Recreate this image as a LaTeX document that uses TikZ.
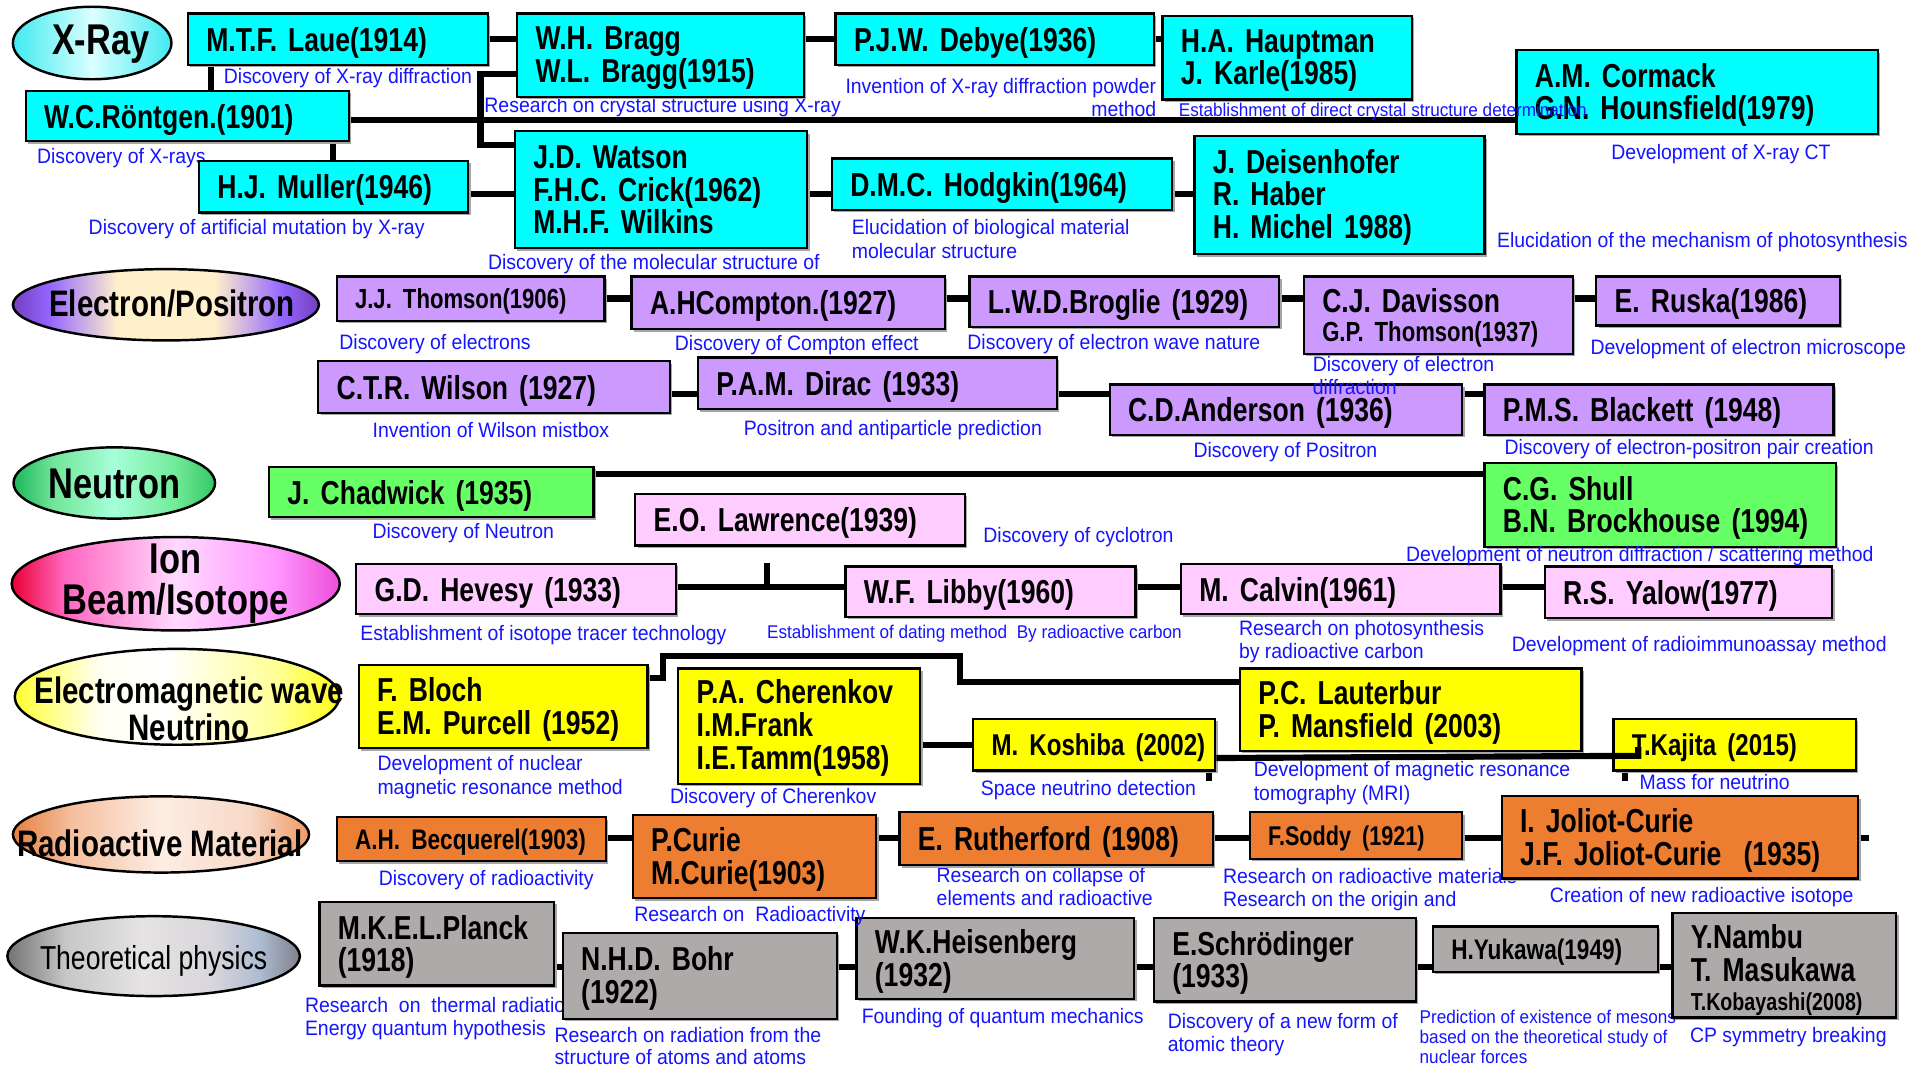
\documentclass[tikz,border=0pt]{standalone}
\usepackage{fontspec}
\setmainfont{Liberation Sans}
\newfontfamily\bxf{Liberation Sans}[FakeStretch=0.8]
\newfontfamily\dsf{Liberation Sans}[FakeStretch=0.93]
\usetikzlibrary{shapes.geometric,calc,backgrounds,shadows}
\definecolor{cyanb}{HTML}{00FFFF}
\definecolor{lav}{HTML}{CC99FF}
\definecolor{grn}{HTML}{66FF66}
\definecolor{pnk}{HTML}{FFCCFF}
\definecolor{yel}{HTML}{FFFF00}
\definecolor{org}{HTML}{ED7D31}
\definecolor{gry}{HTML}{AEAAAA}
\definecolor{capblue}{HTML}{1414FF}
\pgfdeclarehorizontalshading{xrayshade}{100bp}{rgb(0bp)=(0.25,0.92,0.94); rgb(25bp)=(0.25,0.92,0.94); rgb(50bp)=(0.86,1,1); rgb(75bp)=(0.25,0.92,0.94); rgb(100bp)=(0.25,0.92,0.94)}
\pgfdeclarehorizontalshading{elecshade}{100bp}{rgb(0bp)=(0.45,0.25,0.75); rgb(25bp)=(0.45,0.25,0.75); rgb(31bp)=(0.58,0.4,1); rgb(42bp)=(1,0.94,0.8); rgb(58bp)=(1,0.94,0.8); rgb(69bp)=(0.58,0.4,1); rgb(75bp)=(0.45,0.25,0.75); rgb(100bp)=(0.45,0.25,0.75)}
\pgfdeclarehorizontalshading{neutshade}{100bp}{rgb(0bp)=(0.1,0.72,0.35); rgb(25bp)=(0.1,0.72,0.35); rgb(35bp)=(0.45,0.9,0.6); rgb(50bp)=(0.65,1,0.85); rgb(65bp)=(0.45,0.92,0.6); rgb(75bp)=(0.2,0.78,0.4); rgb(100bp)=(0.2,0.78,0.4)}
\pgfdeclarehorizontalshading{ionshade}{100bp}{rgb(0bp)=(0.92,0,0.2); rgb(25bp)=(0.92,0,0.2); rgb(33bp)=(1,0.4,0.75); rgb(50bp)=(1,0.85,1); rgb(65bp)=(1,0.6,1); rgb(75bp)=(0.93,0.3,0.85); rgb(100bp)=(0.93,0.3,0.85)}
\pgfdeclarehorizontalshading{emshade}{100bp}{rgb(0bp)=(1,1,0.2); rgb(25bp)=(1,1,0.2); rgb(38bp)=(1,1,0.95); rgb(48bp)=(1,1,1); rgb(65bp)=(1,1,0.6); rgb(75bp)=(1,1,0.1); rgb(100bp)=(1,1,0.1)}
\pgfdeclarehorizontalshading{radshade}{100bp}{rgb(0bp)=(0.9,0.5,0.25); rgb(25bp)=(0.9,0.5,0.25); rgb(35bp)=(0.96,0.75,0.62); rgb(50bp)=(0.99,0.93,0.89); rgb(65bp)=(0.97,0.85,0.78); rgb(75bp)=(0.93,0.6,0.4); rgb(100bp)=(0.93,0.6,0.4)}
\pgfdeclarehorizontalshading{theoshade}{100bp}{rgb(0bp)=(0.45,0.45,0.45); rgb(25bp)=(0.45,0.45,0.45); rgb(35bp)=(0.78,0.78,0.78); rgb(48bp)=(0.9,0.89,0.89); rgb(60bp)=(0.85,0.84,0.86); rgb(68bp)=(0.68,0.74,0.82); rgb(75bp)=(0.5,0.5,0.55); rgb(100bp)=(0.5,0.5,0.55)}
\tikzset{
  conn/.style={line width=5pt, draw=black},
  pb/.style={draw=black, line width=1.8pt, anchor=north west, inner xsep=15pt, inner ysep=0pt, align=left, text=black,
    font=\bxf\bfseries\fontsize{27}{26.5}\selectfont,
    execute at begin node={\hyphenpenalty=10000\relax\exhyphenpenalty=10000\relax},
    drop shadow={shadow xshift=2pt, shadow yshift=-2pt, fill=black!35, opacity=1}},
  onel/.style={text depth=0pt},
  twol/.style={text depth=27.2pt},
  threel/.style={text depth=55.7pt},
  capt/.style={text=capblue, font=\dsf\fontsize{17}{19}\selectfont, inner sep=0pt, align=left, anchor=west, text depth=0pt},
  captsm/.style={capt, font=\dsf\fontsize{15}{16.5}\selectfont},
  catell/.style={ellipse, draw=black, line width=2pt, inner sep=0pt},
  cattext/.style={font=\bxf\bfseries\fontsize{30}{30}\selectfont, align=center, inner sep=0pt, text=black},
}
\newcommand\mybx[8][]{%
  \pgfmathsetmacro\mybxtw{#5-30}%
  \node[pb, fill=#7, minimum width=#5pt, minimum height=#6pt, text width=\mybxtw pt, #1] (#2) at (#3,#4) {#8};}
\begin{document}
\begin{tikzpicture}[x=1pt,y=-1pt]
\useasboundingbox (0,0) rectangle (1568,867);

% category ellipses
\node[catell, minimum width=129pt, minimum height=59pt, shading=xrayshade] (xray) at (75,35) {};
\node[cattext, font=\bxf\bfseries\fontsize{35}{35}\selectfont] (xrayt) at (82,36) {X-Ray};
\node[catell, minimum width=249pt, minimum height=58pt, shading=elecshade] (elec) at (135,248) {};
\node[cattext] (elect) at (140,247) {Electron/Positron};
\node[catell, minimum width=164pt, minimum height=58pt, shading=neutshade] (neut) at (93,393) {};
\node[cattext, font=\bxf\bfseries\fontsize{35}{35}\selectfont] (neutt) at (93,394) {Neutron};
\node[catell, minimum width=267pt, minimum height=76pt, shading=ionshade] (ion) at (143,475) {};
\node[cattext, font=\bxf\bfseries\fontsize{35}{33}\selectfont] (iont) at (143,475) {Ion\\Beam/Isotope};
\node[catell, minimum width=264pt, minimum height=78pt, shading=emshade] (em) at (144,567) {};
\node[cattext] (emt) at (154,577) {Electromagnetic wave\\Neutrino};
\node[catell, minimum width=241pt, minimum height=62pt, shading=radshade] (radio) at (131,679) {};
\node[cattext] (radiot) at (130,686) {Radioactive Material};
\node[catell, minimum width=238pt, minimum height=65pt, shading=theoshade] (theo) at (125,778) {};
\node[cattext, font=\bxf\fontsize{27}{27}\selectfont] (theot) at (125,782) {Theoretical physics};

% captions drawn below boxes
\node[capt] (cLaue) at (182,62) {Discovery of X-ray diffraction};
\node[capt] (cBragg) at (394,85) {Research on crystal structure using X-ray};
\node[capt, anchor=east, align=right] (cDebye) at (941,79.5) {Invention of X-ray diffraction powder\\method};
\node[capt] (cCormack) at (1311,124) {Development of X-ray CT};
\node[capt] (cRoent) at (30,127) {Discovery of X-rays};
\node[capt] (cMuller) at (72,185) {Discovery of artificial mutation by X-ray};
\node[capt] (cWatson) at (397,213) {Discovery of the molecular structure of};
\node[capt] (cHodgkin) at (693,194.5) {Elucidation of biological material\\molecular structure};
\node[capt] (cDeisen) at (1218,195) {Elucidation of the mechanism of photosynthesis};
\node[capt] (cThomson) at (276,278) {Discovery of electrons};
\node[capt] (cCompton) at (549,279) {Discovery of Compton effect};
\node[capt] (cBroglie) at (787,278) {Discovery of electron wave nature};
\node[capt] (cRuska) at (1294,282) {Development of electron microscope};
\node[capt] (cWilson) at (303,350) {Invention of Wilson mistbox};
\node[capt] (cDirac) at (605,348) {Positron and antiparticle prediction};
\node[capt] (cAnderson) at (971,366) {Discovery of Positron};
\node[capt] (cBlackett) at (1224,364) {Discovery of electron-positron pair creation};
\node[capt] (cChadwick) at (303,432) {Discovery of Neutron};
\node[capt] (cLawrence) at (800,435) {Discovery of cyclotron};
\node[capt] (cHevesy) at (293,515) {Establishment of isotope tracer technology};
\node[captsm] (cLibby) at (624,514) {Establishment of dating method\ \ By radioactive carbon};
\node[capt] (cCalvin) at (1008,520.5) {Research on photosynthesis\\by radioactive carbon};
\node[capt] (cYalow) at (1230,524) {Development of radioimmunoassay method};
\node[capt] (cBloch) at (307,630.5) {Development of nuclear\\magnetic resonance method};
\node[capt] (cCheren) at (545,648) {Discovery of Cherenkov};
\node[capt] (cKoshiba) at (798,641) {Space neutrino detection};
\node[capt] (cLauter) at (1020,635.5) {Development of magnetic resonance\\tomography (MRI)};
\node[capt] (cKajita) at (1334,636) {Mass for neutrino};
\node[capt] (cBecq) at (308,714) {Discovery of radioactivity};
\node[capt] (cRuther) at (762,721.5) {Research on collapse of\\elements and radioactive};
\node[capt] (cSoddy) at (995,722) {Research on radioactive materials\\Research on the origin and};
\node[capt] (cJoliot) at (1261,728) {Creation of new radioactive isotope};
\node[capt] (cPlanck) at (248,827) {Research\ \ on\ \ thermal radiation\\Energy quantum hypothesis};
\node[capt, font=\dsf\fontsize{17}{18}\selectfont] (cBohr) at (451,851) {Research on radiation from the\\structure of atoms and atoms};
\node[capt] (cHeisen) at (701,827) {Founding of quantum mechanics};
\node[capt] (cSchrod) at (950,840) {Discovery of a new form of\\atomic theory};
\node[captsm] (cYukawa) at (1155,843.5) {Prediction of existence of mesons\\based on the theoretical study of\\nuclear forces};
\node[capt] (cNambu) at (1375,842) {CP symmetry breaking};

% boxes
\mybx[onel]{laue}{152}{10}{244}{42}{cyanb}{M.T.F.~Laue(1914)}
\mybx[twol]{bragg}{420}{10}{233}{68}{cyanb}{W.H.~Bragg\\W.L.~Bragg(1915)}
\mybx[onel]{debye}{679}{10}{259}{42}{cyanb}{P.J.W.~Debye(1936)}
\mybx[twol]{haupt}{945}{12}{203}{68}{cyanb}{H.A.~Hauptman\\J.~Karle(1985)}
\mybx[twol]{cormack}{1233}{40}{294}{68}{cyanb}{A.M.~Cormack\\G.N.~Hounsfield(1979)}
\mybx[onel]{roent}{20}{73}{263}{41}{cyanb}{W.C.Röntgen.(1901)}
\mybx[onel]{muller}{161}{130}{219}{42}{cyanb}{H.J.~Muller(1946)}
\mybx{watson}{418}{106}{238}{95}{cyanb}{J.D.~Watson\\F.H.C.~Crick(1962)\\M.H.F.~Wilkins}
\mybx[onel]{hodgkin}{676}{128}{277}{42}{cyanb}{D.M.C.~Hodgkin(1964)}
\mybx[threel]{deisen}{971}{110}{236}{96}{cyanb}{J.~Deisenhofer\\R.~Haber\\H.~Michel~1988)}

\mybx[onel]{thomson}{273}{224}{218}{36}{lav}{\fontsize{22.5}{23}\selectfont J.J.~Thomson(1906)}
\mybx[onel]{compton}{513}{224}{255}{43}{lav}{A.HCompton.(1927)}
\mybx[onel]{broglie}{788}{224}{252}{41}{lav}{L.W.D.Broglie~(1929)}
\mybx[text depth=23pt]{davisson}{1060}{224}{219}{63}{lav}{C.J.~Davisson\\[-3pt]{\fontsize{22.5}{24}\selectfont G.P.~Thomson(1937)}}
\mybx[onel]{ruska}{1298}{224}{198}{40}{lav}{E.~Ruska(1986)}
\mybx[onel]{wilson}{258}{293}{286}{42}{lav}{C.T.R.~Wilson~(1927)}
\mybx[onel]{dirac}{567}{290}{292}{42}{lav}{P.A.M.~Dirac~(1933)}
\mybx[onel]{anderson}{902}{312}{287}{41}{lav}{C.D.Anderson~(1936)}
\mybx[onel]{blackett}{1207}{312}{284}{41}{lav}{P.M.S.~Blackett~(1948)}

\mybx[onel]{chadwick}{218}{379}{264}{41}{grn}{J.~Chadwick~(1935)}
\mybx[twol]{shull}{1207}{376}{286}{68}{grn}{C.G.~Shull\\B.N.~Brockhouse~(1994)}
\mybx[onel]{lawrence}{516}{401}{268}{42}{pnk}{E.O.~Lawrence(1939)}

\mybx[onel]{hevesy}{289}{458}{260}{41}{pnk}{G.D.~Hevesy~(1933)}
\mybx[onel]{libby}{687}{460}{236}{41}{pnk}{W.F.~Libby(1960)}
\mybx[onel]{calvin}{960}{458}{260}{41}{pnk}{M.~Calvin(1961)}
\mybx[onel]{yalow}{1256}{460}{234}{42}{pnk}{R.S.~Yalow(1977)}

\mybx[twol]{bloch}{291}{540}{235}{68}{yel}{F.~Bloch\\E.M.~Purcell~(1952)}
\mybx[threel]{cheren}{551}{543}{197}{94}{yel}{P.A.~Cherenkov\\I.M.Frank\\I.E.Tamm(1958)}
\mybx[onel]{koshiba}{791}{584}{197}{42}{yel}{\fontsize{24.5}{25}\selectfont M.~Koshiba~(2002)}
\mybx[twol]{lauter}{1008}{543}{278}{67}{yel}{P.C.~Lauterbur\\P.~Mansfield~(2003)}
\mybx[onel]{kajita}{1312}{584}{197}{42}{yel}{\fontsize{24.5}{25}\selectfont T.Kajita~(2015)}

\mybx[onel]{becq}{273}{664}{219}{36}{org}{\fontsize{23}{23}\selectfont A.H.~Becquerel(1903)}
\mybx[twol]{curie}{514}{662}{198}{68}{org}{P.Curie\\M.Curie(1903)}
\mybx[onel]{ruther}{731}{660}{255}{43}{org}{E.~Rutherford~(1908)}
\mybx[onel]{soddy}{1016}{660}{173}{38}{org}{\fontsize{22}{22}\selectfont F.Soddy~(1921)}
\mybx[twol]{joliot}{1221}{647}{290}{67}{org}{I.~Joliot-Curie\\J.F.~Joliot-Curie~~(1935)}

\mybx[twol]{planck}{259}{733}{191}{68}{gry}{M.K.E.L.Planck\\(1918)}
\mybx[twol]{bohr}{457}{758}{223}{70}{gry}{N.H.D.~Bohr\\(1922)}
\mybx[twol]{heisen}{696}{746}{226}{66}{gry}{W.K.Heisenberg\\(1932)}
\mybx[twol]{schrod}{938}{746}{213}{68}{gry}{E.Schrödinger\\(1933)}
\mybx[onel]{yukawa}{1165}{753}{183}{37}{gry}{\fontsize{23}{23}\selectfont H.Yukawa(1949)}
\mybx[text depth=46pt]{nambu}{1360}{742}{182}{85}{gry}{Y.Nambu\\T.~Masukawa\\[-3pt]{\fontsize{20}{20}\selectfont T.Kobayashi(2008)}}

% captions drawn over boxes
\node[captsm] (cHaupt) at (959,89) {Establishment of direct crystal structure determination};
\node[capt] (cDavisson) at (1068,305.5) {Discovery of electron\\diffraction};
\node[capt] (cShull) at (1144,451) {Development of neutron diffraction / scattering method};
\node[capt] (cCurie) at (516,744) {Research on\ \ Radioactivity};

% connector over Kajita box
\coordinate (k1) at ($(koshiba.south east)+(0,-11)$);
\coordinate (k2) at ($(kajita.north west)+(21,31)$);
\draw[conn] (k1) -- (k2) -- ++(0,-7);

% connectors behind
\begin{pgfonlayer}{background}
\fill[white] (0,0) rectangle (1568,867);
\draw[conn] (laue.east) -- (laue.east -| bragg.west);
\coordinate (clr) at ($(laue.south west)+(20,0)$);
\draw[conn] (clr) -- (clr |- roent.north);
\draw[conn] (debye.west) -- (debye.west -| bragg.east);
\draw[conn] (debye.east) -- (debye.east -| haupt.west);
\coordinate (rl) at ($(roent.east)+(0,3.5)$);
\draw[conn] (rl) -- (rl -| cormack.west);
\coordinate (brt) at ($(bragg.north west)+(0,50)$);
\coordinate (wtt) at ($(watson.north west)+(0,12)$);
\draw[conn] (brt) -| ($(wtt)+(-27,0)$) -- (wtt);
\coordinate (crm) at ($(roent.south west)+(251,0)$);
\draw[conn] (crm) -- (crm |- muller.north);
\coordinate (wl) at ($(watson.west)+(0,3.5)$);
\draw[conn] (muller.east |- wl) -- (wl);
\draw[conn] (watson.east |- wl) -- (hodgkin.west |- wl);
\draw[conn] (hodgkin.east |- wl) -- (deisen.west |- wl);

\draw[conn] (thomson.east) -- (thomson.east -| compton.west);
\draw[conn] (compton.east |- thomson.east) -- (broglie.west |- thomson.east);
\draw[conn] (broglie.east |- thomson.east) -- (davisson.west |- thomson.east);
\draw[conn] (davisson.east |- thomson.east) -- (ruska.west |- thomson.east);
\coordinate (el) at ($(dirac.west)+(0,9)$);
\draw[conn] (wilson.east |- el) -- (dirac.west |- el);
\draw[conn] (dirac.east |- el) -- (anderson.west |- el);
\draw[conn] (anderson.east |- el) -- (blackett.west |- el);

\coordinate (nl) at ($(chadwick.north east)+(0,7)$);
\draw[conn] (nl) -- (nl -| shull.west);

\coordinate (il) at ($(hevesy.east)+(0,-2)$);
\draw[conn] (il) -- (il -| libby.west);
\coordinate (itk) at ($(il)+(73,0)$);
\draw[conn] (itk) -- (itk |- hevesy.north);
\draw[conn] (libby.east |- il) -- (calvin.west |- il);
\draw[conn] (calvin.east |- il) -- (yalow.west |- il);

\coordinate (b1) at ($(bloch.north east)+(0,12)$);
\coordinate (b2) at ($(lauter.north west)+(0,12)$);
\draw[conn] (b1) -- ++(12,0) -- ++(0,-18) -| ($(b2)+(-227,0)$) -- (b2);
\draw[conn] (koshiba.west) -- (koshiba.west -| cheren.east);
\coordinate (k3) at ($(koshiba.south east)+(-6,0)$);
\draw[conn] (k3) -- ++(0,8);
\coordinate (k4) at ($(kajita.south west)+(10,0)$);
\draw[conn] (k4) -- ++(0,8);

\coordinate (ral) at ($(becq.east)+(0,-1)$);
\draw[conn] (ral) -- (ral -| curie.west);
\draw[conn] (curie.east |- ral) -- (ruther.west |- ral);
\draw[conn] (ruther.east |- ral) -- (soddy.west |- ral);
\draw[conn] (soddy.east |- ral) -- (joliot.west |- ral);
\coordinate (jst) at ($(joliot.east |- ral)+(8,0)$);
\draw[conn] (joliot.east |- ral) -- (jst);

\coordinate (tl) at ($(heisen.west)+(0,7)$);
\draw[conn] (planck.east |- tl) -- (bohr.west |- tl);
\draw[conn] (bohr.east |- tl) -- (heisen.west |- tl);
\draw[conn] (heisen.east |- tl) -- (schrod.west |- tl);
\draw[conn] (schrod.east |- tl) -- (yukawa.west |- tl);
\draw[conn] (yukawa.east |- tl) -- (nambu.west |- tl);
\end{pgfonlayer}
\end{tikzpicture}
\end{document}
